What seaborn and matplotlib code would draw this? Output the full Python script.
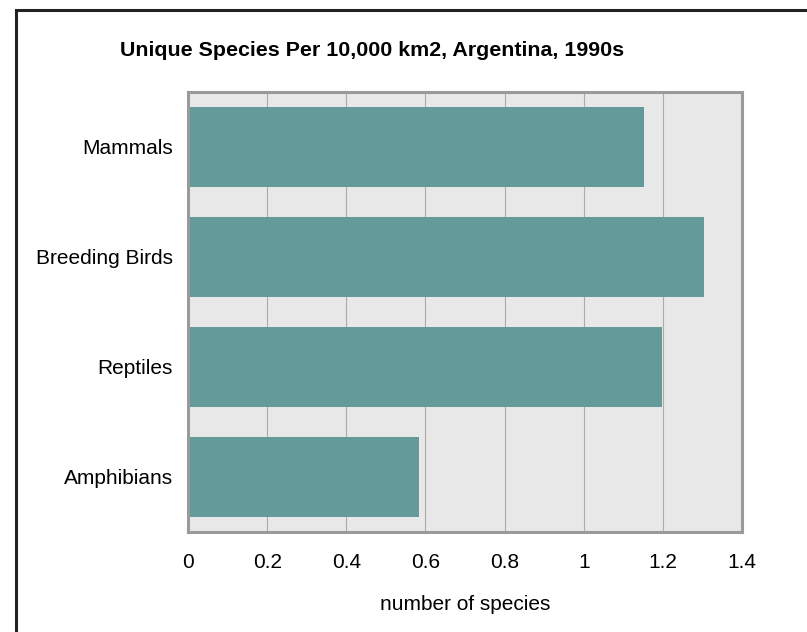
import matplotlib
matplotlib.use("Agg")
import matplotlib.pyplot as plt
import matplotlib.patches as mpatches
import pandas as pd
import seaborn as sns

# data
categories = ["Mammals", "Breeding Birds", "Reptiles", "Amphibians"]
species = [1.152, 1.304, 1.198, 0.584]
xticks = [0, 0.2, 0.4, 0.6, 0.8, 1, 1.2, 1.4]
xtick_labels = ["0", "0.2", "0.4", "0.6", "0.8", "1", "1.2", "1.4"]

df = pd.DataFrame({"category": categories, "species": species})

sns.set_style("white")
plt.rcParams["font.family"] = ["Liberation Sans", "DejaVu Sans"]

fig = plt.figure(figsize=(8.07, 6.32), dpi=100)
ax = fig.add_axes([188 / 807, 1 - 532 / 632, (742 - 188) / 807, (532 - 92) / 632])
ax.set_facecolor("#e8e8e8")

sns.barplot(data=df, x="species", y="category", color="#659a9a", saturation=1,
            width=0.72, linewidth=0, ax=ax, zorder=2)

ax.set_xlim(0, 1.4)
ax.set_ylim(3.5, -0.5)
ax.set_xticks(xticks)
ax.set_xticklabels(xtick_labels)
ax.grid(axis="x", color="#ababab", linewidth=0.8, zorder=1)
ax.set_axisbelow(True)
ax.tick_params(axis="both", length=0, labelsize=15, colors="black")
ax.tick_params(axis="x", pad=15)
ax.tick_params(axis="y", pad=11)
for sp in ax.spines.values():
    sp.set_visible(True)
    sp.set_color("#9a9a9a")
    sp.set_linewidth(2.2)

ax.set_xlabel("number of species", fontsize=15, labelpad=17, color="black")
ax.set_ylabel("")

fig.text(120 / 807, 1 - 50 / 632, "Unique Species Per 10,000 km2, Argentina, 1990s",
         fontsize=15.4, fontweight="bold", ha="left", va="center", color="black")

# outer frame
fig.patches.append(mpatches.Rectangle((16 / 807, -0.05), 1.1, 1 - 10 / 632 + 0.05,
                                      transform=fig.transFigure, fill=False,
                                      edgecolor="#222222", linewidth=2.2))

fig.savefig("out.png", dpi=100)
